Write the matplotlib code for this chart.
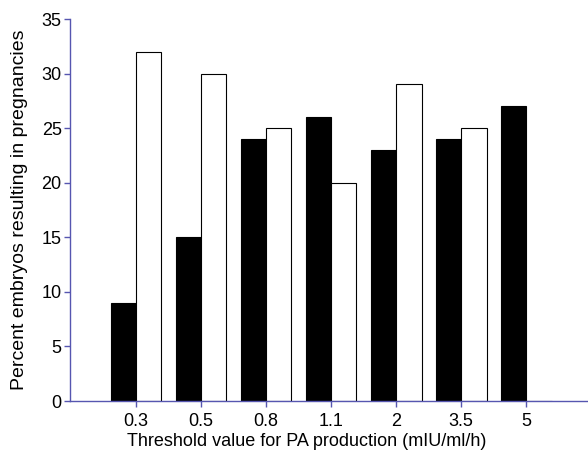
import matplotlib
matplotlib.use("Agg")
import matplotlib.pyplot as plt
import numpy as np

plt.rcParams['font.family'] = ['Liberation Sans', 'DejaVu Sans']

thresholds = ["0.3", "0.5", "0.8", "1.1", "2", "3.5", "5"]
black_series = [9, 15, 24, 26, 23, 24, 27]
white_series = [32, 30, 25, 20, 29, 25, 0]

axis_color = "#5656b0"

fig = plt.figure(figsize=(5.88, 4.58), dpi=100)
ax = fig.add_axes([70 / 588, 1 - 401 / 458, 1 - 70 / 588, (401 - 19) / 458])

x = np.arange(len(thresholds))
w = 0.39
ax.bar(x - w / 2, black_series, width=w, color="black", edgecolor="black", linewidth=0.8)
ax.bar(x + w / 2, white_series, width=w, color="white", edgecolor="black", linewidth=0.8)

ax.set_xlim(-1.015, 6.95)
ax.set_ylim(0, 35)
ax.set_yticks(range(0, 36, 5))
ax.set_xticks(x)
ax.set_xticklabels(thresholds)

for s in ["top", "right"]:
    ax.spines[s].set_visible(False)
for s in ["left", "bottom"]:
    ax.spines[s].set_color(axis_color)
    ax.spines[s].set_linewidth(1.0)
    ax.spines[s].set_zorder(3)

ax.tick_params(axis="both", colors=axis_color, labelcolor="black", direction="out",
               length=4, width=1.0, labelsize=13)
ax.tick_params(axis="x", pad=5)
ax.tick_params(axis="y", pad=2)

ax.set_xlabel("Threshold value for PA production (mIU/ml/h)", fontsize=13, labelpad=2)
ax.xaxis.set_label_coords(0.457, -0.085)
ax.set_ylabel("Percent embryos resulting in pregnancies", fontsize=14, labelpad=10)

fig.savefig("out.png", dpi=100)
